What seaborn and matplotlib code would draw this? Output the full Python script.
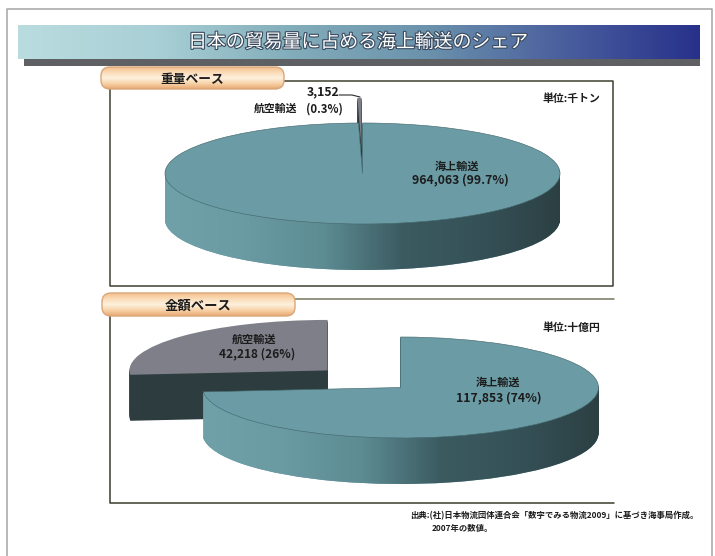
import numpy as np
import matplotlib
matplotlib.use("Agg")
import matplotlib.pyplot as plt
import matplotlib.patheffects as pe
from matplotlib.patches import FancyBboxPatch, Rectangle
from matplotlib.path import Path
import seaborn as sns

sns.set_theme(style="white")
plt.rcParams["font.family"] = ["Noto Sans CJK JP", "DejaVu Sans"]

# Trade volume shares: [air, sea]
categories = ["航空輸送", "海上輸送"]
weight_values = [3152, 964063]
weight_shares = ["0.3%", "99.7%"]
value_values = [42218, 117853]
value_shares = ["26%", "74%"]

title = "日本の貿易量に占める海上輸送のシェア"
weight_heading = "重量ベース"
value_heading = "金額ベース"
weight_unit = "単位:千トン"
value_unit = "単位:十億円"
source_lines = ["出典:(社)日本物流団体連合会「数字でみる物流2009」に基づき海事局作成。", "2007年の数値。"]

W, H = 715, 556
fig = plt.figure(figsize=(W / 100, H / 100), dpi=100, facecolor="white")

page = fig.add_axes([0, 0, 1, 1], zorder=0)
page.set_xlim(0, W)
page.set_ylim(H, 0)
page.axis("off")

SEA_TOP = "#6b9ca5"
AIR_TOP = "#7e7f88"
AIR_SIDE = "#2d3c3f"
side_cmap = sns.blend_palette(["#70a1a9", "#6a9aa2", "#5d8c93", "#3b5b61", "#355157", "#2c4043"], as_cmap=True)
band_cmap = sns.blend_palette(["#b9dcdf", "#a9d0d6", "#82adba", "#6b92ac", "#4a5f9e", "#27318a"], as_cmap=True)
pill_cmap = sns.blend_palette(["#f3c08f", "#fbdcb8", "#fdf1de", "#f8d3a8", "#e8a873"], as_cmap=True)


def px(x, y):
    return x / W, 1 - y / H


def label(x, y, text, size=8.4, ha="center", weight="bold", color="#1c1c1c"):
    return fig.text(*px(x, y), text, fontsize=size, ha=ha, va="center", weight=weight, color=color, zorder=10)


def draw_pill(x0, x1, y0, y1):
    box = FancyBboxPatch((x0 + 9, y0 + 9), x1 - x0 - 18, y1 - y0 - 18, boxstyle="round,pad=9,rounding_size=9",
                         facecolor="none", edgecolor="#d9a679", linewidth=1.0, zorder=6)
    page.add_patch(box)
    img = page.imshow(np.linspace(0, 1, 64)[:, None], extent=(x0, x1, y1, y0), cmap=pill_cmap, aspect="auto", zorder=5)
    img.set_clip_path(box)
    page.set_xlim(0, W)
    page.set_ylim(H, 0)


def draw_pie(values, cx, cy, rx, ry, depth):
    # Each chart axes spans the whole figure, scaled so a unit pie becomes the wanted ellipse.
    ax = fig.add_axes([0, 0, 1, 1], zorder=1)
    ax.patch.set_alpha(0)
    xlim = (-cx / rx, (W - cx) / rx)
    ylim = ((cy - H) / ry, cy / ry)
    sea_side = []
    for k in range(depth, -1, -1):
        top = k == 0
        wedges, _ = ax.pie(values, startangle=90, explode=(0.5, 0), center=(0, -k / ry), radius=1,
                           colors=[AIR_TOP if top else AIR_SIDE, SEA_TOP],
                           wedgeprops={"linewidth": 0})
        wedges[0].set_zorder(2 if top else 1)
        wedges[1].set_zorder(5 if top else 3)
        if top:
            wedges[1].set_edgecolor("#46696f")
            wedges[1].set_linewidth(0.45)
        else:
            sea_side.append(wedges[1].get_path())
    shade = ax.imshow(np.linspace(0, 1, 256)[None, :], extent=(-1, 1, ylim[0], ylim[1]), cmap=side_cmap,
                      aspect="auto", zorder=4)
    shade.set_clip_path(Path.make_compound_path(*sea_side), ax.transData)
    ax.set_aspect("auto")
    ax.set_xlim(*xlim)
    ax.set_ylim(*ylim)
    return ax


# Page border
page.plot([7, 7, 712, 712], [H, 9, 9, H], color="#ababab", lw=1.2, zorder=1)

# Title band with its drop bar
page.add_patch(Rectangle((24, 59), 676, 6.5, facecolor="#5f6064", edgecolor="none", zorder=2))
page.imshow(np.linspace(0, 1, 512)[None, :], extent=(18, 700, 59, 25), cmap=band_cmap, aspect="auto", zorder=3)
page.set_xlim(0, W)
page.set_ylim(H, 0)
title_text = label(358, 42, title, size=13.6, weight="normal", color="white")
title_text.set_path_effects([pe.withStroke(linewidth=1.6, foreground="#3a4a5e")])

# Section frames
page.plot([110, 110, 613, 613, 110], [81, 286, 286, 81, 81], color="#3f3f30", lw=1.1, zorder=2)
page.plot([110, 110, 614], [299, 503, 503], color="#3a3a2c", lw=1.1, zorder=2)
page.plot([110, 614], [299, 299], color="#77775c", lw=1.1, zorder=2)
draw_pill(101, 284, 67, 89)
draw_pill(102, 295, 293, 316)

# Pies
draw_pie(weight_values, 362.5, 173.5, 197.5, 50.5, 46)
draw_pie(value_values, 400.5, 387.5, 198, 50.5, 46)

# Leader line for the small slice
page.plot([339, 352, 360], [95, 95, 97], color="#2a2a2a", lw=0.8, zorder=4)

# Text
label(192, 79, weight_heading, size=9.2)
label(198, 306, value_heading, size=9.6)
label(339, 92, f"{weight_values[0]:,}", ha="right", size=8.8)
label(276, 109, categories[0], size=7.8)
label(324, 109, f"({weight_shares[0]})", size=8.2)
label(571, 99, weight_unit, size=7.8)
label(457, 166, categories[1], size=8.0)
label(460, 180, f"{weight_values[1]:,} ({weight_shares[1]})", size=8.8)

label(254, 339, categories[0], size=8.0)
label(257, 354, f"{value_values[0]:,} ({value_shares[0]})", size=8.6)
label(571, 328, value_unit, size=7.8)
label(498, 382, categories[1], size=8.0)
label(499, 398, f"{value_values[1]:,} ({value_shares[1]})", size=8.8)

label(410, 516, source_lines[0], size=6.0, ha="left")
label(432, 528, source_lines[1], size=6.0, ha="left")

fig.savefig("out.png", dpi=100, facecolor="white")
